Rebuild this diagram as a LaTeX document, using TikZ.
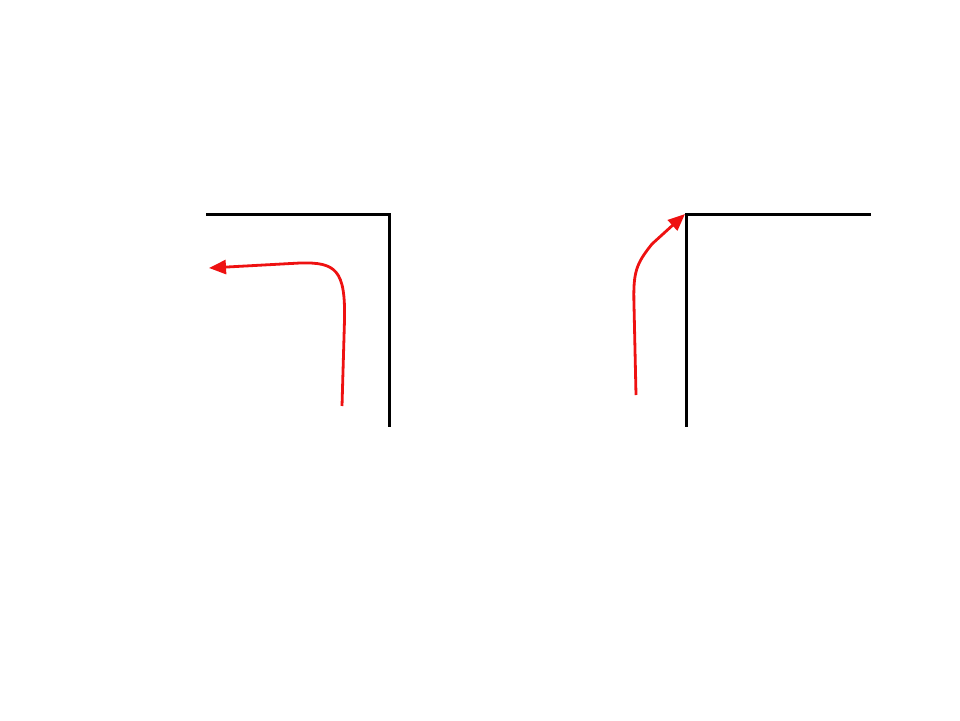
\documentclass[tikz,border=0pt]{standalone}
\usetikzlibrary{arrows.meta}
\definecolor{wallink}{HTML}{000000}
\definecolor{flowred}{HTML}{EE1111}
\tikzset{
  wall/.style={draw=wallink,line width=3pt,line cap=rect},
  flow/.style={draw=flowred,line width=2.8pt,-{Triangle[length=17pt,width=14pt]}}
}
\begin{document}
\begin{tikzpicture}[x=1pt,y=-1pt]
  \path[use as bounding box] (0,0) rectangle (960,720);

  % left corner: flow turns away from the wall
  \coordinate (lwallA) at (207,214);
  \coordinate (lcorner) at (389,214);
  \coordinate (lwallB) at (389,425);
  \draw[wall] (lwallA) -- (lcorner) -- (lwallB);
  \coordinate (lstart) at (342,406);
  \coordinate (ltip) at (209,268);
  \draw[flow] (lstart) -- (344.5,320) .. controls (345.5,270) and (336,262) .. (300,263) -- (ltip);

  % right corner: flow runs into the edge
  \coordinate (rwallA) at (869,214);
  \coordinate (rcorner) at (686,214);
  \coordinate (rwallB) at (686,425);
  \draw[wall] (rwallA) -- (rcorner) -- (rwallB);
  \coordinate (rstart) at (636,395);
  \coordinate (rtip) at (685,214);
  \draw[flow] (rstart) -- (634,305) .. controls (633,272) and (636,264) .. (652,244) -- (rtip);
\end{tikzpicture}
\end{document}
